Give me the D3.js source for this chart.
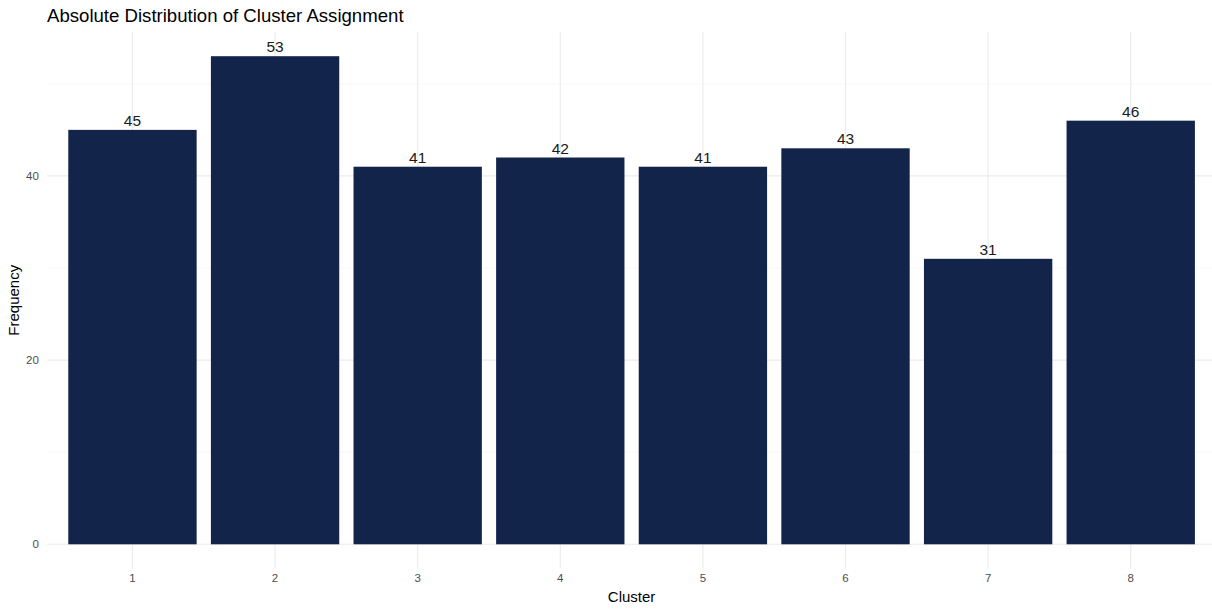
<!DOCTYPE html>
<html><head><meta charset="utf-8">
<script src="https://cdn.jsdelivr.net/npm/d3@7"></script>
<style>body{margin:0;background:#fff;}svg{display:block;font-family:"Liberation Sans",Arial,sans-serif;}</style>
</head><body>
<svg id="c" width="1212" height="611"></svg>
<script>
const clusters = ["1","2","3","4","5","6","7","8"];
const frequency = [45,53,41,42,41,43,31,46];
const yTicks = [0,20,40];
const yMinor = [10,30,50];

(function(){
const svg = d3.select("#c");
const pL = 46.9, pR = 1216.3, pT = 31.8, pB = 568.7;

const x = d3.scaleBand().domain(clusters).range([pL, pR]).paddingInner(0.1).paddingOuter(0.15);
const y = d3.scaleLinear().domain([-53*0.05, 53*1.05]).range([pB, pT]);

const g = svg.append("g");
g.selectAll(".ymin").data(yMinor).enter().append("line")
  .attr("x1", pL).attr("x2", pR).attr("y1", d=>y(d)).attr("y2", d=>y(d))
  .attr("stroke", "#f3f3f3").attr("stroke-width", 0.6);
g.selectAll(".ymaj").data(yTicks).enter().append("line")
  .attr("x1", pL).attr("x2", pR).attr("y1", d=>y(d)).attr("y2", d=>y(d))
  .attr("stroke", "#ebebeb").attr("stroke-width", 1.1);
g.selectAll(".xmaj").data(clusters).enter().append("line")
  .attr("x1", d=>x(d)+x.bandwidth()/2).attr("x2", d=>x(d)+x.bandwidth()/2)
  .attr("y1", pT).attr("y2", pB)
  .attr("stroke", "#ebebeb").attr("stroke-width", 1.1);

g.selectAll(".bar").data(clusters).enter().append("rect")
  .attr("x", d=>x(d)).attr("width", x.bandwidth())
  .attr("y", (d,i)=>y(frequency[i])).attr("height", (d,i)=>y(0)-y(frequency[i]))
  .attr("fill", "#13244a");

g.selectAll(".lab").data(clusters).enter().append("text")
  .attr("x", d=>x(d)+x.bandwidth()/2).attr("y", (d,i)=>y(frequency[i])-4)
  .attr("text-anchor","middle").attr("font-size","15.5px").attr("fill","#1a1a1a")
  .text((d,i)=>frequency[i]);

const yAxis = d3.axisLeft(y).tickValues(yTicks).tickSize(0).tickPadding(0);
const ya = svg.append("g").attr("transform", `translate(${pL-8},0)`).call(yAxis);
ya.select(".domain").remove();
ya.selectAll("text").attr("font-size","11.5px").attr("fill","#4d4d4d").attr("font-family","Liberation Sans, Arial, sans-serif");

const xAxis = d3.axisBottom(x).tickSize(0).tickPadding(0);
const xa = svg.append("g").attr("transform", `translate(0,${pB+5})`).call(xAxis);
xa.select(".domain").remove();
xa.selectAll("text").attr("font-size","11.5px").attr("fill","#4d4d4d").attr("font-family","Liberation Sans, Arial, sans-serif");

svg.append("text").attr("x", 47).attr("y", 22).attr("font-size","18.6px").attr("fill","#000")
  .text("Absolute Distribution of Cluster Assignment");
svg.append("text").attr("x", (pL+pR)/2).attr("y", 602).attr("text-anchor","middle")
  .attr("font-size","15px").attr("fill","#000").text("Cluster");
svg.append("text").attr("transform", `translate(19,${(pT+pB)/2}) rotate(-90)`)
  .attr("text-anchor","middle").attr("font-size","15px").attr("fill","#000").text("Frequency");
})();
</script>
</body></html>
